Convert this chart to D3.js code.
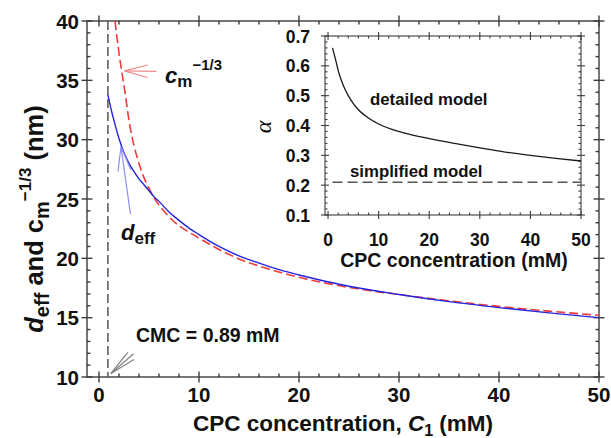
<!DOCTYPE html>
<html>
<head>
<meta charset="utf-8">
<script src="https://cdn.jsdelivr.net/npm/d3@7"></script>
<style>
  html, body { margin: 0; padding: 0; background: #fff; }
  svg { display: block; }
  text { font-family: "Liberation Sans", Arial, Helvetica, sans-serif; font-weight: bold; fill: #111; }
</style>
</head>
<body>
<svg id="chart" width="611" height="438"></svg>
<script>
// ---- data ----
const cmc = 0.89;                       // critical micelle concentration, mM

// effective spacing d_eff (nm) versus CPC concentration C1 (mM)
const deffConc   = [0.89, 1.2, 1.5, 2.0, 2.5, 3.0, 3.5, 4.0, 4.5, 5.0, 5.5, 6.0, 7.0, 8.0, 9.0, 10, 12, 14, 16, 18, 20, 25, 30, 35, 40, 45, 50];
const deffValues = [33.8, 32.6, 31.6, 30.1, 28.9, 28.0, 27.3, 26.7, 26.2, 25.7, 25.2, 24.8, 23.9, 23.2, 22.55, 22.0, 21.0, 20.2, 19.6, 19.05, 18.6, 17.65, 16.95, 16.35, 15.85, 15.4, 15.0];

// c_m^(-1/3) (nm) versus CPC concentration C1 (mM)
const cmConc   = [1.6, 1.8, 2.0, 2.3, 2.6, 3.0, 3.5, 4.0, 4.5, 5.0, 5.5, 6.0, 7.0, 8.0, 9.0, 10, 12, 14, 16, 18, 20, 25, 30, 35, 40, 45, 50];
const cmValues = [40.0, 38.6, 37.3, 35.6, 34.0, 31.6, 29.5, 28.0, 26.8, 25.9, 25.1, 24.5, 23.5, 22.75, 22.2, 21.7, 20.75, 19.95, 19.35, 18.85, 18.4, 17.55, 16.95, 16.42, 15.95, 15.55, 15.2];

// inset: alpha from the detailed and the simplified model
const alphaConc   = [0.89, 1.5, 2.0, 3.0, 4.0, 5.0, 6.0, 8.0, 10, 12.5, 15, 20, 25, 30, 35, 40, 45, 50];
const alphaValues = [0.66, 0.62, 0.585, 0.535, 0.50, 0.473, 0.453, 0.425, 0.405, 0.388, 0.375, 0.356, 0.340, 0.325, 0.311, 0.300, 0.290, 0.281];
const simplifiedAlpha = 0.21;

// tick labels
const xTicks = [0, 10, 20, 30, 40, 50];
const yTicks = [10, 15, 20, 25, 30, 35, 40];
const insetXTicks = [0, 10, 20, 30, 40, 50];
const insetYTicks = [0.1, 0.2, 0.3, 0.4, 0.5, 0.6, 0.7];

// ---- layout ----
const svg = d3.select("#chart");
const axisColor = "#3c3c3c";

const x = d3.scaleLinear().domain([-1.2, 50]).range([87, 599]);
const y = d3.scaleLinear().domain([10, 40]).range([377, 21]);

const ix = d3.scaleLinear().domain([-0.6, 50]).range([325, 581]);
const iy = d3.scaleLinear().domain([0.1, 0.7]).range([215, 36]);

// draws a framed box with crossing major ticks and inward minor ticks
function frame(g, sx, sy, xMaj, xMin, yMaj, yMin, majLen, minLen, width) {
  const [x0, x1] = sx.range(), [y0, y1] = sy.range(); // y0 bottom, y1 top
  const seg = (a, b, c, d) => g.append("line").attr("x1", a).attr("y1", b).attr("x2", c).attr("y2", d)
      .attr("stroke", axisColor).attr("stroke-width", width);
  g.append("rect").attr("x", x0).attr("y", y1).attr("width", x1 - x0).attr("height", y0 - y1)
    .attr("fill", "none").attr("stroke", axisColor).attr("stroke-width", width);
  xMaj.forEach(v => { const p = sx(v); seg(p, y0 - majLen, p, y0 + majLen); seg(p, y1 - majLen, p, y1 + majLen); });
  xMin.forEach(v => { const p = sx(v); seg(p, y0, p, y0 - minLen); seg(p, y1, p, y1 + minLen); });
  yMaj.forEach(v => { const p = sy(v); seg(x0 - majLen, p, x0 + majLen, p); seg(x1 - majLen, p, x1 + majLen, p); });
  yMin.forEach(v => { const p = sy(v); seg(x0, p, x0 + minLen, p); seg(x1, p, x1 - minLen, p); });
}

const isMajor = (v, step) => Math.abs(v / step - Math.round(v / step)) < 1e-6;

// main frame
const main = svg.append("g");
frame(main, x, y,
  xTicks, d3.range(0, 50.001, 2).filter(v => !isMajor(v, 10)),
  yTicks, d3.range(10, 40.001, 1).filter(v => !isMajor(v, 5)),
  5.5, 3.5, 1.4);

main.selectAll("text.xt").data(xTicks).join("text")
  .attr("x", d => x(d)).attr("y", 402).attr("text-anchor", "middle")
  .style("font-size", "20.5px").text(d => d);
main.selectAll("text.yt").data(yTicks).join("text")
  .attr("x", 79).attr("y", d => y(d) + 7.5).attr("text-anchor", "end")
  .style("font-size", "20.5px").text(d => d);

// axis titles
const xt = main.append("text").attr("x", 343).attr("y", 431).attr("text-anchor", "middle").style("font-size", "22.5px");
xt.append("tspan").text("CPC concentration, ");
xt.append("tspan").style("font-style", "italic").text("C");
xt.append("tspan").attr("dy", 5).style("font-size", "16px").text("1");
xt.append("tspan").attr("dy", -5).text(" (mM)");

const yt = main.append("text").attr("transform", "translate(43,219) rotate(-90)")
  .attr("text-anchor", "middle").style("font-size", "25.5px");
yt.append("tspan").style("font-style", "italic").text("d");
yt.append("tspan").attr("dy", 6).style("font-size", "20px").text("eff");
yt.append("tspan").attr("dy", -6).text(" and c");
yt.append("tspan").attr("dy", 6).style("font-size", "20px").text("m");
yt.append("tspan").attr("dy", -18).style("font-size", "17px").text("\u22121/3");
yt.append("tspan").attr("dy", 12).text(" (nm)");

// curves
svg.append("clipPath").attr("id", "plotClip").append("rect")
  .attr("x", 87).attr("y", 21).attr("width", 512).attr("height", 356);
const plot = svg.append("g").attr("clip-path", "url(#plotClip)");

plot.append("line")
  .attr("x1", x(cmc)).attr("x2", x(cmc)).attr("y1", y(40)).attr("y2", y(10))
  .attr("stroke", "#555").attr("stroke-width", 1.5).attr("stroke-dasharray", "9,4");

const mainLine = d3.line().x(d => x(d[0])).y(d => y(d[1])).curve(d3.curveMonotoneX);
plot.append("path").datum(d3.zip(cmConc, cmValues)).attr("d", mainLine)
  .attr("fill", "none").attr("stroke", "#ee3b3b").attr("stroke-width", 1.6).attr("stroke-dasharray", "9,4");
plot.append("path").datum(d3.zip(deffConc, deffValues)).attr("d", mainLine)
  .attr("fill", "none").attr("stroke", "#2424dc").attr("stroke-width", 1.4);

// open-headed arrows: tip in data units, shaft direction in degrees
function arrow(g, tx, ty, angle, shaft, head, spread, color) {
  const r = a => a * Math.PI / 180;
  const pts = [[shaft, angle], [head, angle - spread], [head, angle + spread]];
  pts.forEach(([len, a]) => g.append("line")
    .attr("x1", tx).attr("y1", ty)
    .attr("x2", tx + len * Math.cos(r(a))).attr("y2", ty + len * Math.sin(r(a)))
    .attr("stroke", color).attr("stroke-width", 1.2));
}
arrow(svg, x(2.55), y(35.8), 1, 32, 24, 15, "#f28b8b");
arrow(svg, x(2.2), y(29.4), 82, 68, 25, 15, "#8f8ff0");
arrow(svg, x(cmc) + 3, y(10.3), -41, 30, 27, 10, "#808080");

// annotations
const cmLbl = svg.append("text").attr("x", 165).attr("y", 83).style("font-size", "22px");
cmLbl.append("tspan").style("font-style", "italic").text("c");
cmLbl.append("tspan").attr("dy", 4).style("font-size", "17px").text("m");
cmLbl.append("tspan").attr("dy", -17).style("font-size", "15px").text("\u22121/3");

const dLbl = svg.append("text").attr("x", 121).attr("y", 240).style("font-size", "22px");
dLbl.append("tspan").style("font-style", "italic").text("d");
dLbl.append("tspan").attr("dy", 4).style("font-size", "17px").text("eff");

svg.append("text").attr("x", 136).attr("y", 342).style("font-size", "19.5px").text("CMC = 0.89 mM");

// ---- inset ----
const inset = svg.append("g");
inset.append("rect").attr("x", 325).attr("y", 36).attr("width", 256).attr("height", 179).attr("fill", "#fff");
frame(inset, ix, iy,
  insetXTicks, d3.range(0, 50.001, 2).filter(v => !isMajor(v, 10)),
  insetYTicks, d3.range(0.1, 0.7001, 0.02).filter(v => !isMajor(v, 0.1)),
  4, 2.5, 1.1);

inset.selectAll("text.ixt").data(insetXTicks).join("text")
  .attr("x", d => ix(d)).attr("y", 246).attr("text-anchor", "middle")
  .style("font-size", "17.5px").text(d => d);
inset.selectAll("text.iyt").data(insetYTicks).join("text")
  .attr("x", 310).attr("y", d => iy(d) + 6.5).attr("text-anchor", "end")
  .style("font-size", "17.5px").text(d => d3.format(".1f")(d));

inset.append("text").attr("x", 454).attr("y", 267).attr("text-anchor", "middle")
  .style("font-size", "19.5px").text("CPC concentration (mM)");
inset.append("text").attr("transform", "translate(271,127) rotate(-90)").attr("text-anchor", "middle")
  .style("font-family", "'Liberation Serif', 'DejaVu Serif', serif").style("font-style", "italic")
  .style("font-weight", "normal").style("font-size", "24px").text("\u03b1");

const insetLine = d3.line().x(d => ix(d[0])).y(d => iy(d[1])).curve(d3.curveMonotoneX);
inset.append("path").datum(d3.zip(alphaConc, alphaValues)).attr("d", insetLine)
  .attr("fill", "none").attr("stroke", "#1a1a1a").attr("stroke-width", 1.3);
inset.append("line")
  .attr("x1", ix(cmc)).attr("x2", ix(50)).attr("y1", iy(simplifiedAlpha)).attr("y2", iy(simplifiedAlpha))
  .attr("stroke", "#555").attr("stroke-width", 1.4).attr("stroke-dasharray", "10,5");

inset.append("text").attr("x", 370).attr("y", 105).style("font-size", "16.8px").text("detailed model");
inset.append("text").attr("x", 350).attr("y", 177).style("font-size", "16.8px").text("simplified model");
</script>
</body>
</html>
